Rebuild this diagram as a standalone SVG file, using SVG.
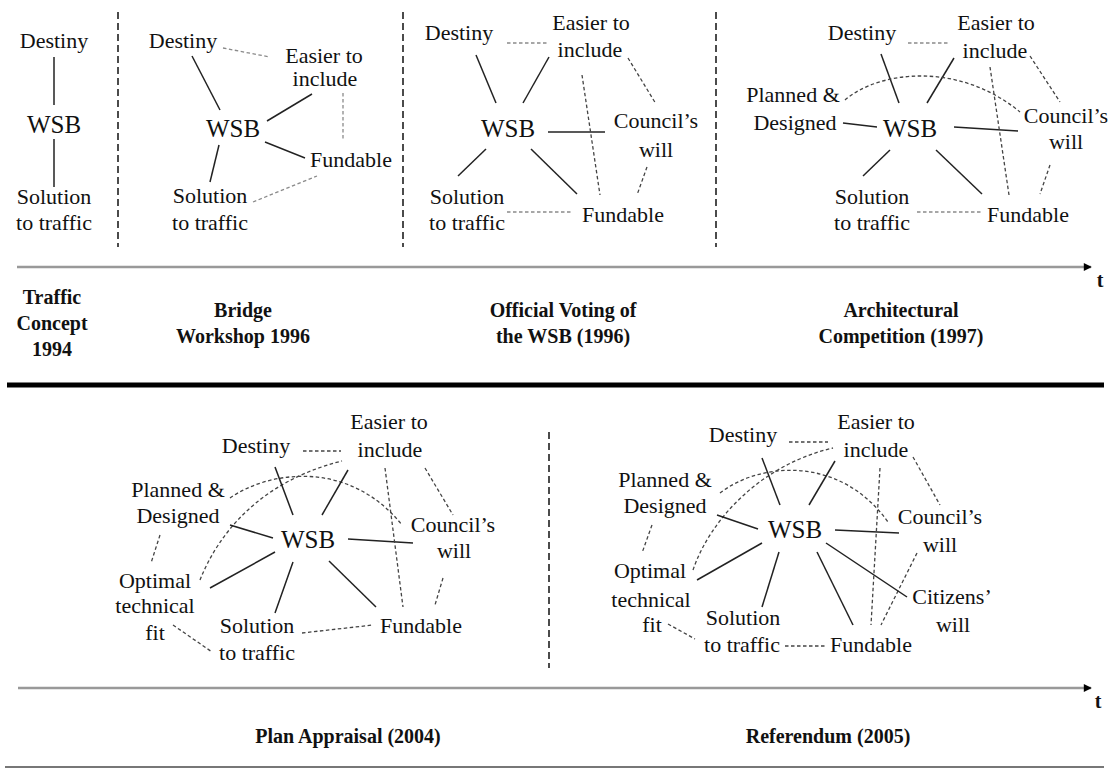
<svg xmlns="http://www.w3.org/2000/svg" width="1113" height="769" viewBox="0 0 1113 769">
  <defs>
    <marker id="arrow" viewBox="0 0 10 10" refX="9" refY="5" markerWidth="10" markerHeight="8" markerUnits="userSpaceOnUse" orient="auto">
      <path d="M0,0 L10,5 L0,10 z" fill="#000"/>
    </marker>
    <style>
      text { font-family: "Liberation Serif", "Times New Roman", serif; fill: #111; text-anchor: middle; }
      .n { font-size: 22px; }
      .hub { font-size: 25px; }
      .lbl { font-size: 20px; font-weight: bold; }
      .solid { stroke: #222; stroke-width: 1.5; fill: none; }
      .dash { stroke: #444; stroke-width: 1.3; stroke-dasharray: 3.5 2.5; fill: none; }
      .dash.lt { stroke: #8a8a8a; }
      .sep { stroke: #111; stroke-width: 1.5; stroke-dasharray: 7 4; fill: none; }
      .axis { stroke: #999; stroke-width: 2.5; fill: none; }
    </style>
  </defs>

  <rect width="1113" height="769" fill="#fff"/>

  <!-- phase separators and time axes -->
  <g id="frame">
    <line class="sep" x1="118" y1="12" x2="118" y2="247"/>
    <line class="sep" x1="403" y1="12" x2="403" y2="247"/>
    <line class="sep" x1="716" y1="12" x2="716" y2="247"/>
    <line class="sep" x1="549" y1="432" x2="549" y2="668"/>
    <line class="axis" x1="17" y1="267" x2="1091" y2="267" marker-end="url(#arrow)"/>
    <line class="axis" x1="18" y1="688" x2="1091" y2="688" marker-end="url(#arrow)"/>
    <text class="lbl" x="1100" y="287">t</text>
    <text class="lbl" x="1098" y="708">t</text>
    <line x1="7" y1="385" x2="1104" y2="385" stroke="#000" stroke-width="5"/>
    <line x1="5" y1="767" x2="1104" y2="767" stroke="#777" stroke-width="2"/>
  </g>

  <!-- phase labels -->
  <g id="labels">
    <text class="lbl" x="52" y="304">Traffic</text>
    <text class="lbl" x="52" y="330">Concept</text>
    <text class="lbl" x="52" y="356">1994</text>
    <text class="lbl" x="243" y="317">Bridge</text>
    <text class="lbl" x="243" y="343">Workshop 1996</text>
    <text class="lbl" x="563" y="317">Official Voting of</text>
    <text class="lbl" x="563" y="343">the WSB (1996)</text>
    <text class="lbl" x="901" y="317">Architectural</text>
    <text class="lbl" x="901" y="343">Competition (1997)</text>
    <text class="lbl" x="348" y="743">Plan Appraisal (2004)</text>
    <text class="lbl" x="828" y="743">Referendum (2005)</text>
  </g>

  <!-- connectors -->
  <g id="connectors">
    <!-- Traffic Concept 1994 -->
    <line class="solid" x1="54" y1="57" x2="54" y2="105"/>
    <line class="solid" x1="54" y1="139" x2="54" y2="187"/>

    <!-- Bridge Workshop 1996 -->
    <line class="dash lt" x1="223" y1="48" x2="270" y2="57"/>
    <line class="solid" x1="192" y1="56" x2="220" y2="110"/>
    <line class="solid" x1="267" y1="121" x2="312" y2="94"/>
    <line class="dash lt" x1="343" y1="93" x2="343" y2="140"/>
    <line class="solid" x1="265" y1="142" x2="305" y2="158"/>
    <line class="solid" x1="219" y1="145" x2="210" y2="182"/>
    <line class="dash lt" x1="253" y1="202" x2="317" y2="176"/>

    <!-- Official Voting 1996 -->
    <line class="dash lt" x1="507" y1="43" x2="547" y2="43"/>
    <line class="solid" x1="476" y1="55" x2="496" y2="103"/>
    <line class="solid" x1="549" y1="57" x2="523" y2="103"/>
    <line class="solid" x1="548" y1="132" x2="605" y2="132"/>
    <line class="dash" x1="582" y1="75" x2="600" y2="195"/>
    <line class="dash" x1="628" y1="58" x2="656" y2="104"/>
    <line class="dash" x1="647" y1="167" x2="637" y2="195"/>
    <line class="solid" x1="486" y1="149" x2="458" y2="176"/>
    <line class="solid" x1="531" y1="149" x2="577" y2="194"/>
    <line class="dash lt" x1="507" y1="212" x2="573" y2="212"/>

    <!-- Architectural Competition 1997 -->
    <line class="dash lt" x1="908" y1="43" x2="950" y2="43"/>
    <line class="solid" x1="881" y1="54" x2="899" y2="103"/>
    <line class="solid" x1="954" y1="58" x2="927" y2="103"/>
    <path class="dash" d="M845,100 C880,70 960,62 1020,112"/>
    <line class="solid" x1="843" y1="123" x2="877" y2="127"/>
    <line class="solid" x1="954" y1="127" x2="1018" y2="131"/>
    <line class="dash" x1="990" y1="67" x2="1009" y2="195"/>
    <line class="dash" x1="1030" y1="56" x2="1060" y2="102"/>
    <line class="dash" x1="1050" y1="165" x2="1040" y2="194"/>
    <line class="solid" x1="890" y1="150" x2="863" y2="176"/>
    <line class="solid" x1="936" y1="150" x2="982" y2="194"/>
    <line class="dash lt" x1="917" y1="212" x2="982" y2="212"/>

    <!-- Plan Appraisal 2004 -->
    <line class="dash" x1="303" y1="451" x2="341" y2="451"/>
    <path class="dash" d="M230,498 C270,470 350,460 402,525"/>
    <path class="dash" d="M200,580 C218,535 258,482 342,461"/>
    <line class="dash" x1="160" y1="535" x2="151" y2="563"/>
    <line class="solid" x1="275" y1="467" x2="293" y2="515"/>
    <line class="solid" x1="348" y1="470" x2="322" y2="515"/>
    <line class="solid" x1="230" y1="525" x2="273" y2="538"/>
    <line class="solid" x1="348" y1="539" x2="413" y2="543"/>
    <line class="dash" x1="385" y1="468" x2="403" y2="607"/>
    <line class="dash" x1="425" y1="468" x2="453" y2="515"/>
    <line class="dash" x1="443" y1="578" x2="435" y2="605"/>
    <line class="solid" x1="275" y1="552" x2="210" y2="588"/>
    <line class="solid" x1="293" y1="562" x2="275" y2="613"/>
    <line class="solid" x1="329" y1="561" x2="376" y2="607"/>
    <line class="dash" x1="302" y1="633" x2="373" y2="625"/>
    <line class="dash" x1="173" y1="625" x2="212" y2="652"/>

    <!-- Referendum 2005 -->
    <line class="dash" x1="789" y1="442" x2="828" y2="442"/>
    <path class="dash" d="M720,493 C760,462 840,455 888,522"/>
    <path class="dash" d="M693,570 C710,520 760,465 833,448"/>
    <line class="dash" x1="652" y1="525" x2="642" y2="553"/>
    <line class="solid" x1="762" y1="458" x2="780" y2="505"/>
    <line class="solid" x1="835" y1="461" x2="809" y2="505"/>
    <line class="solid" x1="717" y1="515" x2="758" y2="529"/>
    <line class="solid" x1="835" y1="530" x2="899" y2="533"/>
    <line class="dash" x1="880" y1="468" x2="871" y2="625"/>
    <line class="dash" x1="913" y1="457" x2="940" y2="505"/>
    <line class="dash" x1="917" y1="553" x2="881" y2="625"/>
    <line class="solid" x1="826" y1="543" x2="907" y2="597"/>
    <line class="solid" x1="762" y1="543" x2="697" y2="580"/>
    <line class="solid" x1="779" y1="552" x2="762" y2="607"/>
    <line class="solid" x1="817" y1="552" x2="853" y2="625"/>
    <line class="dash" x1="785" y1="646" x2="826" y2="646"/>
    <line class="dash" x1="668" y1="624" x2="695" y2="639"/>
  </g>

  <!-- Traffic Concept 1994 -->
  <g id="p1-destiny"><text class="n" x="54" y="48">Destiny</text></g>
  <g id="p1-wsb"><text class="hub" x="54" y="133">WSB</text></g>
  <g id="p1-solution"><text class="n" x="54" y="204">Solution</text><text class="n" x="54" y="230">to traffic</text></g>

  <!-- Bridge Workshop 1996 -->
  <g id="p2-destiny"><text class="n" x="183" y="48">Destiny</text></g>
  <g id="p2-easier"><text class="n" x="324" y="63">Easier to</text><text class="n" x="325" y="86">include</text></g>
  <g id="p2-wsb"><text class="hub" x="233" y="137">WSB</text></g>
  <g id="p2-fundable"><text class="n" x="351" y="167">Fundable</text></g>
  <g id="p2-solution"><text class="n" x="210" y="203">Solution</text><text class="n" x="210" y="230">to traffic</text></g>

  <!-- Official Voting 1996 -->
  <g id="p3-destiny"><text class="n" x="459" y="40">Destiny</text></g>
  <g id="p3-easier"><text class="n" x="591" y="30">Easier to</text><text class="n" x="590" y="57">include</text></g>
  <g id="p3-wsb"><text class="hub" x="508" y="137">WSB</text></g>
  <g id="p3-council"><text class="n" x="656" y="128">Council’s</text><text class="n" x="656" y="157">will</text></g>
  <g id="p3-solution"><text class="n" x="467" y="204">Solution</text><text class="n" x="467" y="230">to traffic</text></g>
  <g id="p3-fundable"><text class="n" x="623" y="222">Fundable</text></g>

  <!-- Architectural Competition 1997 -->
  <g id="p4-destiny"><text class="n" x="862" y="40">Destiny</text></g>
  <g id="p4-easier"><text class="n" x="996" y="30">Easier to</text><text class="n" x="995" y="58">include</text></g>
  <g id="p4-planned"><text class="n" x="793" y="102">Planned &amp;</text><text class="n" x="795" y="130">Designed</text></g>
  <g id="p4-wsb"><text class="hub" x="910" y="137">WSB</text></g>
  <g id="p4-council"><text class="n" x="1066" y="123">Council’s</text><text class="n" x="1066" y="149">will</text></g>
  <g id="p4-solution"><text class="n" x="872" y="204">Solution</text><text class="n" x="872" y="230">to traffic</text></g>
  <g id="p4-fundable"><text class="n" x="1028" y="222">Fundable</text></g>

  <!-- Plan Appraisal 2004 -->
  <g id="p5-easier"><text class="n" x="389" y="429">Easier to</text><text class="n" x="390" y="457">include</text></g>
  <g id="p5-destiny"><text class="n" x="256" y="453">Destiny</text></g>
  <g id="p5-planned"><text class="n" x="178" y="497">Planned &amp;</text><text class="n" x="178" y="523">Designed</text></g>
  <g id="p5-wsb"><text class="hub" x="308" y="548">WSB</text></g>
  <g id="p5-council"><text class="n" x="453" y="532">Council’s</text><text class="n" x="454" y="558">will</text></g>
  <g id="p5-optimal"><text class="n" x="155" y="588">Optimal</text><text class="n" x="155" y="613">technical</text><text class="n" x="155" y="640">fit</text></g>
  <g id="p5-solution"><text class="n" x="257" y="633">Solution</text><text class="n" x="257" y="660">to traffic</text></g>
  <g id="p5-fundable"><text class="n" x="421" y="633">Fundable</text></g>

  <!-- Referendum 2005 -->
  <g id="p6-destiny"><text class="n" x="743" y="442">Destiny</text></g>
  <g id="p6-easier"><text class="n" x="876" y="429">Easier to</text><text class="n" x="876" y="457">include</text></g>
  <g id="p6-planned"><text class="n" x="665" y="487">Planned &amp;</text><text class="n" x="665" y="513">Designed</text></g>
  <g id="p6-wsb"><text class="hub" x="795" y="538">WSB</text></g>
  <g id="p6-council"><text class="n" x="940" y="524">Council’s</text><text class="n" x="940" y="552">will</text></g>
  <g id="p6-citizens"><text class="n" x="952" y="604">Citizens’</text><text class="n" x="953" y="632">will</text></g>
  <g id="p6-optimal"><text class="n" x="650" y="578">Optimal</text><text class="n" x="651" y="607">technical</text><text class="n" x="652" y="632">fit</text></g>
  <g id="p6-solution"><text class="n" x="743" y="625">Solution</text><text class="n" x="742" y="652">to traffic</text></g>
  <g id="p6-fundable"><text class="n" x="871" y="652">Fundable</text></g>
</svg>
